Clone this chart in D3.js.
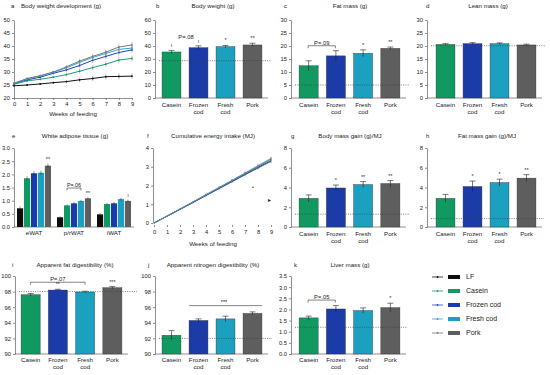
<!DOCTYPE html>
<html>
<head>
<meta charset="utf-8">
<script src="https://cdn.jsdelivr.net/npm/d3@7"></script>
<style>
  body { margin: 0; background: #fff; }
  svg { font-family: "Liberation Sans", Arial, sans-serif; }
</style>
</head>
<body>
<svg id="fig" width="550" height="375"></svg>
<script>
// groups
var groups = ["Casein", "Frozen cod", "Fresh cod", "Pork"];
var legendNames = ["LF", "Casein", "Frozen cod", "Fresh cod", "Pork"];
var barColors = ["#0d0d0d", "#109a62", "#1b3ba8", "#1ca0bf", "#5e5e5e"];
var lineColors = ["#111111", "#1b9a78", "#2342c2", "#2fa9cb", "#7a7a7a"];

// a: body weight development (g)
var weeks = [0, 1, 2, 3, 4, 5, 6, 7, 8, 9];
var bwLF     = [24.7, 25.0, 25.4, 25.9, 26.3, 27.0, 27.5, 28.2, 28.3, 28.4];
var bwCasein = [25.3, 26.6, 27.2, 28.0, 29.0, 30.3, 31.7, 33.0, 34.6, 35.2];
var bwFrozen = [25.5, 27.0, 28.0, 29.5, 30.8, 32.5, 34.5, 36.0, 37.5, 38.5];
var bwFresh  = [25.6, 27.3, 28.4, 29.9, 31.6, 33.7, 35.6, 37.1, 38.7, 39.2];
var bwPork   = [25.7, 27.5, 28.6, 30.0, 32.0, 34.2, 36.0, 37.6, 39.6, 40.4];
var bwErr    = [0.3, 0.4, 0.4, 0.5, 0.7, 0.9, 1.0, 1.1, 1.2, 1.1];

// f: cumulative energy intake (MJ)
var eiLF     = [0, 0.36, 0.73, 1.10, 1.48, 1.85, 2.22, 2.60, 2.97, 3.33];
var eiCasein = [0, 0.37, 0.75, 1.12, 1.50, 1.88, 2.26, 2.65, 3.03, 3.42];
var eiFrozen = [0, 0.36, 0.72, 1.09, 1.46, 1.83, 2.20, 2.57, 2.93, 3.28];
var eiFresh  = [0, 0.37, 0.75, 1.13, 1.52, 1.90, 2.28, 2.67, 3.06, 3.45];
var eiPork   = [0, 0.37, 0.74, 1.12, 1.50, 1.88, 2.26, 2.64, 3.02, 3.40];
var eiErr    = [0, 0.02, 0.03, 0.04, 0.05, 0.06, 0.07, 0.08, 0.08, 0.09];

// bar panels: values, errors, LF reference
var bodyWeight = [35.4, 38.7, 39.5, 40.8], bodyWeightErr = [1.2, 1.4, 0.9, 1.3], bodyWeightLF = 28.7;
var fatMass = [12.4, 16.2, 17.2, 19.1], fatMassErr = [1.9, 2.0, 1.3, 0.5], fatMassLF = 5.0;
var leanMass = [20.6, 20.9, 20.9, 20.4], leanMassErr = [0.3, 0.4, 0.3, 0.3], leanMassLF = 20.1;
var massGain = [2.9, 3.95, 4.3, 4.4], massGainErr = [0.35, 0.3, 0.3, 0.3], massGainLF = 1.3;
var fatGain = [2.9, 4.1, 4.5, 4.95], fatGainErr = [0.4, 0.55, 0.35, 0.35], fatGainLF = 0.85;
var fatDig = [97.6, 98.2, 97.95, 98.5], fatDigErr = [0.15, 0.1, 0.1, 0.15], fatDigLF = 98.0;
var nDig = [92.4, 94.3, 94.5, 95.2], nDigErr = [0.6, 0.2, 0.35, 0.2], nDigLF = 92.0;
var liver = [1.62, 2.02, 1.95, 2.08], liverErr = [0.08, 0.15, 0.12, 0.2], liverLF = 1.2;

// e: white adipose tissue (g), per depot
var tissues = ["eWAT", "p/rWAT", "iWAT"];
var watLF     = [0.71, 0.37, 0.48];
var watCasein = [1.85, 0.82, 0.87];
var watFrozen = [2.04, 0.90, 0.90];
var watFresh  = [2.06, 0.99, 1.06];
var watPork   = [2.33, 1.09, 0.99];
var watErr    = [0.08, 0.04, 0.05];

// significance marks
var sigB = ["ı", "ı", "*", "**"];
var sigC = ["", "", "*", "**"];
var sigG = ["", "*", "**", "**"];
var sigH = ["", "*", "*", "**"];
var sigI = ["", "**", "", "***"];
var sigK = ["", "", "", "*"];
var sigWatPork = ["**", "**", "ı"];

var svg = d3.select("#fig");
var FT = 6.2, FK = 5.8;

function addTitle(letter, lx, title, tx, y) {
  svg.append("text").attr("x", lx).attr("y", y).attr("font-size", 6).attr("fill", "#222").text(letter);
  svg.append("text").attr("x", tx).attr("y", y).attr("text-anchor", "middle")
    .attr("font-size", FT).attr("fill", "#222").text(title);
}

function leftAxis(x, yScale, ticks, fmt, fs) {
  var g = svg.append("g").attr("transform", "translate(" + x + ",0)")
    .call(d3.axisLeft(yScale).tickValues(ticks).tickFormat(fmt)
      .tickSize(2).tickSizeOuter(0).tickPadding(2));
  g.selectAll("text").attr("font-size", fs).attr("fill", "#222").attr("font-family", null);
  g.selectAll("path, line").attr("stroke", "#444").attr("stroke-width", 0.6);
  return g;
}

function catLabels(xScale, y, fs) {
  groups.forEach(function(name) {
    var cx = xScale(name) + xScale.bandwidth() / 2;
    var t = svg.append("text").attr("y", y).attr("text-anchor", "middle")
      .attr("font-size", fs).attr("fill", "#222");
    name.split(" ").forEach(function(p, i) {
      t.append("tspan").attr("x", cx).attr("dy", i ? fs * 1.2 : 0).text(p);
    });
  });
}

function dotted(x1, x2, yv) {
  svg.append("line").attr("x1", x1).attr("x2", x2).attr("y1", yv).attr("y2", yv)
    .attr("stroke", "#444").attr("stroke-width", 0.7).attr("stroke-dasharray", "1,1.3");
}

function bracket(x1, x2, yv, label, fs) {
  svg.append("path").attr("d", "M" + x1 + "," + (yv + 2.5) + "V" + yv + "H" + x2 + "V" + (yv + 2.5))
    .attr("fill", "none").attr("stroke", "#333").attr("stroke-width", 0.6);
  svg.append("text").attr("x", (x1 + x2) / 2).attr("y", yv - 1.2).attr("text-anchor", "middle")
    .attr("font-size", fs).attr("fill", "#222").text(label);
}

function barPanel(p) {
  var x = d3.scaleBand().domain(groups).range(p.range).paddingInner(0.3).paddingOuter(0.15);
  var y = d3.scaleLinear().domain(p.domain).range(p.yr);
  addTitle(p.letter, p.lx, p.title, p.tx, p.ty);
  leftAxis(p.ax, y, p.ticks, p.fmt, FK);
  svg.append("line").attr("x1", p.ax).attr("x2", p.range[1] + 2)
    .attr("y1", y(p.domain[0])).attr("y2", y(p.domain[0]))
    .attr("stroke", "#444").attr("stroke-width", 0.6);

  svg.append("g").selectAll("rect").data(p.values).enter().append("rect")
    .attr("x", function(d, i) { return x(groups[i]); })
    .attr("y", function(d) { return y(d); })
    .attr("width", x.bandwidth())
    .attr("height", function(d) { return y(p.domain[0]) - y(d); })
    .attr("fill", function(d, i) { return barColors[i + 1]; })
    .attr("stroke", "#333").attr("stroke-width", 0.4);

  var eg = svg.append("g").attr("stroke", "#222").attr("stroke-width", 0.6);
  p.values.forEach(function(v, i) {
    var cx = x(groups[i]) + x.bandwidth() / 2;
    eg.append("line").attr("x1", cx).attr("x2", cx).attr("y1", y(v - p.errs[i])).attr("y2", y(v + p.errs[i]));
    eg.append("line").attr("x1", cx - 3).attr("x2", cx + 3).attr("y1", y(v + p.errs[i])).attr("y2", y(v + p.errs[i]));
  });

  dotted(p.ax + 4, p.dotEnd, y(p.lf));

  if (p.sig) {
    p.sig.forEach(function(s, i) {
      if (!s) return;
      svg.append("text").attr("x", x(groups[i]) + x.bandwidth() / 2)
        .attr("y", y(p.values[i] + p.errs[i]) - 3).attr("text-anchor", "middle")
        .attr("font-size", 5.5).attr("fill", "#333").text(s);
    });
  }
  catLabels(x, p.catY, p.cf || FT);
  return {x: x, y: y};
}

// ---------- a: line chart ----------
(function() {
  var x = d3.scaleLinear().domain([0, 9]).range([14, 132]);
  var y = d3.scaleLinear().domain([20, 50]).range([98, 20]);
  addTitle("a", 11, "Body weight development (g)", 61, 8);
  leftAxis(14, y, d3.range(20, 51, 5), d3.format("d"), FK);
  var xa = svg.append("g").attr("transform", "translate(0,98)")
    .call(d3.axisBottom(x).tickValues(weeks).tickSize(2).tickSizeOuter(0).tickPadding(1.5));
  xa.selectAll("text").attr("font-size", FK).attr("fill", "#222");
  xa.selectAll("path, line").attr("stroke", "#444").attr("stroke-width", 0.6);
  svg.append("text").attr("x", 73).attr("y", 116).attr("text-anchor", "middle")
    .attr("font-size", FT).attr("fill", "#222").text("Weeks of feeding");

  var series = [bwLF, bwCasein, bwFrozen, bwFresh, bwPork];
  var line = d3.line().x(function(d, i) { return x(weeks[i]); }).y(function(d) { return y(d); });
  series.forEach(function(s, k) {
    var g = svg.append("g");
    s.forEach(function(v, i) {
      g.append("line").attr("x1", x(weeks[i])).attr("x2", x(weeks[i]))
        .attr("y1", y(v - bwErr[i])).attr("y2", y(v + bwErr[i]))
        .attr("stroke", "#888").attr("stroke-width", 0.5);
    });
    g.append("path").attr("d", line(s)).attr("fill", "none")
      .attr("stroke", lineColors[k]).attr("stroke-width", 1);
    g.selectAll("circle").data(s).enter().append("circle")
      .attr("cx", function(d, i) { return x(weeks[i]); })
      .attr("cy", function(d) { return y(d); })
      .attr("r", 0.9).attr("fill", lineColors[k]);
  });
})();

// ---------- b, c, d ----------
barPanel({letter: "b", lx: 156, title: "Body weight (g)", tx: 213, ty: 8, ax: 155,
  range: [158, 266], yr: [98, 20], domain: [0, 60], ticks: d3.range(0, 61, 10), fmt: d3.format("d"),
  values: bodyWeight, errs: bodyWeightErr, lf: bodyWeightLF, dotEnd: 271, sig: sigB, catY: 107});
svg.append("text").attr("x", 186).attr("y", 39).attr("text-anchor", "middle")
  .attr("font-size", FK).attr("fill", "#222").text("P=.08");

var pc = barPanel({letter: "c", lx: 284, title: "Fat mass (g)", tx: 350, ty: 8, ax: 291,
  range: [295, 404], yr: [98, 20], domain: [0, 30], ticks: d3.range(0, 31, 5), fmt: d3.format("d"),
  values: fatMass, errs: fatMassErr, lf: fatMassLF, dotEnd: 410, sig: sigC, catY: 107});
bracket(pc.x(groups[0]) + 9, pc.x(groups[1]) + 9, pc.y(20.1), "P=.09", FK);

barPanel({letter: "d", lx: 426, title: "Lean mass (g)", tx: 488, ty: 8, ax: 427,
  range: [432, 540], yr: [98, 20], domain: [0, 30], ticks: d3.range(0, 31, 5), fmt: d3.format("d"),
  values: leanMass, errs: leanMassErr, lf: leanMassLF, dotEnd: 545, sig: null, catY: 107});

// ---------- e: grouped bars ----------
(function() {
  var x0 = d3.scaleBand().domain(tissues).range([15, 133]).paddingInner(0.15).paddingOuter(0.05);
  var x1 = d3.scaleBand().domain(legendNames).range([0, x0.bandwidth()]).paddingInner(0.12);
  var y = d3.scaleLinear().domain([0, 3]).range([227, 148]);
  addTitle("e", 12, "White adipose tissue (g)", 75, 138);
  leftAxis(14, y, d3.range(0, 3.01, 0.5), d3.format(".1f"), FK);
  svg.append("line").attr("x1", 14).attr("x2", 134).attr("y1", y(0)).attr("y2", y(0))
    .attr("stroke", "#444").attr("stroke-width", 0.6);
  var series = [watLF, watCasein, watFrozen, watFresh, watPork];
  tissues.forEach(function(t, j) {
    var g = svg.append("g").attr("transform", "translate(" + x0(t) + ",0)");
    g.selectAll("rect").data(series.map(function(s) { return s[j]; })).enter().append("rect")
      .attr("x", function(d, k) { return x1(legendNames[k]); })
      .attr("y", function(d) { return y(d); })
      .attr("width", x1.bandwidth())
      .attr("height", function(d) { return y(0) - y(d); })
      .attr("fill", function(d, k) { return barColors[k]; });
    series.forEach(function(s, k) {
      var cx = x1(legendNames[k]) + x1.bandwidth() / 2;
      g.append("line").attr("x1", cx).attr("x2", cx)
        .attr("y1", y(s[j] - watErr[j])).attr("y2", y(s[j] + watErr[j]))
        .attr("stroke", "#222").attr("stroke-width", 0.5);
    });
    svg.append("text").attr("x", x0(t) + x0.bandwidth() / 2).attr("y", 235)
      .attr("text-anchor", "middle").attr("font-size", FT).attr("fill", "#222").text(t);
    if (sigWatPork[j]) {
      svg.append("text").attr("x", x0(t) + x1("Pork") + x1.bandwidth() / 2)
        .attr("y", y(watPork[j] + watErr[j]) - 2.5).attr("text-anchor", "middle")
        .attr("font-size", 5.5).attr("fill", "#333").text(sigWatPork[j]);
    }
  });
  var bx1 = x0("p/rWAT") + x1("Casein") + x1.bandwidth() / 2;
  var bx2 = x0("p/rWAT") + x1("Fresh cod") + x1.bandwidth() / 2;
  bracket(bx1, bx2, y(1.48), "P=.06", 5.4);
})();

// ---------- f: cumulative energy intake ----------
(function() {
  var x = d3.scaleLinear().domain([0, 9]).range([154, 271]);
  var y = d3.scaleLinear().domain([0, 4]).range([223, 148]);
  addTitle("f", 147, "Cumulative energy intake (MJ)", 213, 138);
  leftAxis(153, y, d3.range(0, 5, 1), d3.format("d"), FK);
  var xa = svg.append("g").attr("transform", "translate(0,225)")
    .call(d3.axisBottom(x).tickValues(weeks).tickSize(2).tickSizeOuter(0).tickPadding(2.5));
  xa.selectAll("text").attr("font-size", FK).attr("fill", "#222");
  xa.selectAll("path, line").attr("stroke", "#444").attr("stroke-width", 0.6);
  xa.select(".domain").attr("stroke", "none");
  svg.append("text").attr("x", 213).attr("y", 246).attr("text-anchor", "middle")
    .attr("font-size", FT).attr("fill", "#222").text("Weeks of feeding");
  var series = [eiLF, eiCasein, eiFrozen, eiFresh, eiPork];
  var line = d3.line().x(function(d, i) { return x(weeks[i]); }).y(function(d) { return y(d); });
  series.forEach(function(s, k) {
    var g = svg.append("g");
    s.forEach(function(v, i) {
      if (i === 0) return;
      g.append("line").attr("x1", x(weeks[i])).attr("x2", x(weeks[i]))
        .attr("y1", y(v - eiErr[i])).attr("y2", y(v + eiErr[i]))
        .attr("stroke", "#777").attr("stroke-width", 0.5);
    });
    g.append("path").attr("d", line(s)).attr("fill", "none")
      .attr("stroke", lineColors[k]).attr("stroke-width", 0.8);
  });
  svg.append("text").attr("x", 252).attr("y", 189).attr("font-size", 5).attr("fill", "#222").text("•");
  svg.append("text").attr("x", 268).attr("y", 202).attr("font-size", 6).attr("fill", "#222").text("▸");
})();

// ---------- g, h ----------
barPanel({letter: "g", lx: 291, title: "Body mass gain (g)/MJ", tx: 350, ty: 138, ax: 291,
  range: [295, 404], yr: [227, 148], domain: [0, 8], ticks: d3.range(0, 9, 2), fmt: d3.format("d"),
  values: massGain, errs: massGainErr, lf: massGainLF, dotEnd: 409, sig: sigG, catY: 235.5});

barPanel({letter: "h", lx: 426, title: "Fat mass gain (g)/MJ", tx: 487, ty: 138, ax: 427,
  range: [432, 540], yr: [227, 148], domain: [0, 8], ticks: d3.range(0, 9, 2), fmt: d3.format("d"),
  values: fatGain, errs: fatGainErr, lf: fatGainLF, dotEnd: 544, sig: sigH, catY: 235.5});

// ---------- i, j, k ----------
var pi = barPanel({letter: "i", lx: 12, title: "Apparent fat digestibility (%)", tx: 75, ty: 267, ax: 15,
  range: [17, 126], yr: [354, 276], domain: [90, 100], ticks: d3.range(90, 101, 2), fmt: d3.format("d"),
  values: fatDig, errs: fatDigErr, lf: fatDigLF, dotEnd: 137, sig: sigI, catY: 362});
bracket(pi.x(groups[0]) + 9.5, pi.x(groups[2]) + 9.5, pi.y(99.2), "P=.07", FK);

var pj = barPanel({letter: "j", lx: 148, title: "Apparent nitrogen digestibility (%)", tx: 213, ty: 267, ax: 155,
  range: [158, 266], yr: [354, 276], domain: [90, 100], ticks: d3.range(90, 101, 2), fmt: d3.format("d"),
  values: nDig, errs: nDigErr, lf: nDigLF, dotEnd: 272, sig: null, catY: 362});
svg.append("line").attr("x1", pj.x(groups[1])).attr("x2", pj.x(groups[3]) + pj.x.bandwidth())
  .attr("y1", pj.y(96.2)).attr("y2", pj.y(96.2)).attr("stroke", "#333").attr("stroke-width", 0.6);
svg.append("text").attr("x", 224).attr("y", pj.y(96.2) - 1.5).attr("text-anchor", "middle")
  .attr("font-size", 5.5).attr("fill", "#222").text("***");

var pk = barPanel({letter: "k", lx: 294, title: "Liver mass (g)", tx: 350, ty: 267, ax: 291,
  range: [295, 404], yr: [354, 276], domain: [0, 3.5], ticks: d3.range(0, 3.51, 0.5), fmt: d3.format(".1f"),
  values: liver, errs: liverErr, lf: liverLF, dotEnd: 407, sig: sigK, catY: 362});
bracket(pk.x(groups[0]) + 9, pk.x(groups[1]) + 9, pk.y(2.42), "P=.05", FK);

// ---------- legend ----------
var leg = svg.append("g").selectAll("g").data(legendNames).enter().append("g")
  .attr("transform", function(d, i) { return "translate(432," + (277 + i * 14) + ")"; });
leg.append("line").attr("x1", 0).attr("x2", 11).attr("y1", 0).attr("y2", 0)
  .attr("stroke", function(d, i) { return lineColors[i]; }).attr("stroke-width", 0.8);
leg.append("circle").attr("cx", 5.5).attr("cy", 0).attr("r", 0.9)
  .attr("fill", function(d, i) { return lineColors[i]; });
leg.append("rect").attr("x", 16).attr("y", -2).attr("width", 12).attr("height", 4)
  .attr("fill", function(d, i) { return barColors[i]; });
leg.append("text").attr("x", 34).attr("y", 0).attr("dy", "0.35em")
  .attr("font-size", 7).attr("fill", "#222").text(function(d) { return d; });
</script>
</body>
</html>
